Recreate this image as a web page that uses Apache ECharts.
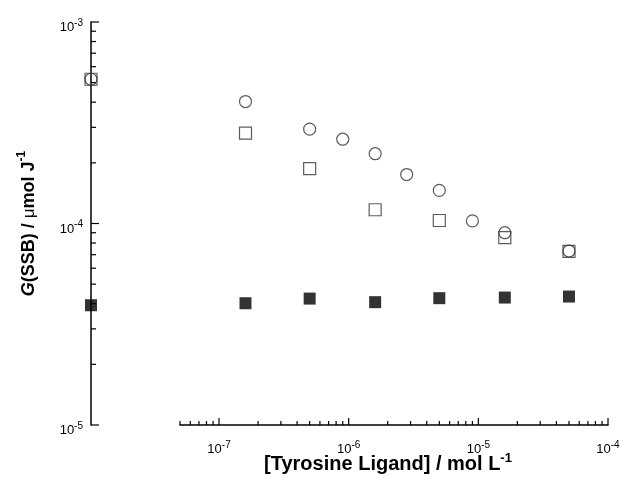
<!DOCTYPE html>
<html>
<head>
<meta charset="utf-8">
<script src="https://cdn.jsdelivr.net/npm/echarts@6/dist/echarts.min.js"></script>
<style>
  html, body { margin: 0; padding: 0; background: #fff; }
  #chart { width: 623px; height: 478px; }
</style>
</head>
<body>
<div id="chart"></div>
<script>
// ligand concentrations, mol/L
const conc = [1.6e-7, 5e-7, 9e-7, 1.6e-6, 2.8e-6, 5e-6, 9e-6, 1.6e-5, 5e-5];
const circleG = [4.03e-4, 2.94e-4, 2.62e-4, 2.22e-4, 1.75e-4, 1.46e-4, 1.03e-4, 9.0e-5, 7.3e-5];

const squareConc = [1.6e-7, 5e-7, 1.6e-6, 5e-6, 1.6e-5, 5e-5];
const openSquareG = [2.81e-4, 1.87e-4, 1.17e-4, 1.035e-4, 8.5e-5, 7.27e-5];
const filledSquareG = [4.02e-5, 4.24e-5, 4.07e-5, 4.26e-5, 4.29e-5, 4.34e-5];

// no ligand: drawn on the y axis
const zeroCircleG = [5.2e-4];
const zeroOpenSquareG = [5.2e-4];
const zeroFilledSquareG = [3.93e-5];

// axis ticks
const yMajorTicks = [1e-5, 1e-4, 1e-3];
const yMinorTicks = [2e-5, 3e-5, 4e-5, 5e-5, 6e-5, 7e-5, 8e-5, 9e-5,
  2e-4, 3e-4, 4e-4, 5e-4, 6e-4, 7e-4, 8e-4, 9e-4];
const xMajorTicks = [1e-7, 1e-6, 1e-5, 1e-4];
const xMinorTicks = [5e-8, 6e-8, 7e-8, 8e-8, 9e-8,
  2e-7, 3e-7, 4e-7, 5e-7, 6e-7, 7e-7, 8e-7, 9e-7,
  2e-6, 3e-6, 4e-6, 5e-6, 6e-6, 7e-6, 8e-6, 9e-6,
  2e-5, 3e-5, 4e-5, 5e-5, 6e-5, 7e-5, 8e-5, 9e-5];

const FONT = "'Liberation Sans', Arial, sans-serif";

const chart = echarts.init(document.getElementById("chart"), null, { renderer: "canvas" });

const powerLabel = (v) => {
  const lg = Math.log10(v);
  const e = Math.round(lg);
  if (Math.abs(lg - e) > 1e-6) return "";
  return "{b|10}{s|" + e + "}";
};

const labelRich = {
  b: { fontSize: 13, lineHeight: 16, verticalAlign: "bottom", fontFamily: FONT, color: "#000" },
  s: { fontSize: 10, lineHeight: 10, verticalAlign: "top", fontFamily: FONT, color: "#000" },
};

// tick marks drawn through the axis scales
const yTick = (len) => (params, api) => {
  const p = api.coord([0, api.value(1)]);
  return {
    type: "line",
    shape: { x1: p[0], y1: p[1], x2: p[0] + len, y2: p[1] },
    style: { stroke: "#000", lineWidth: 1.2 },
  };
};
const xTick = (len, withLabel) => (params, api) => {
  const v = api.value(0);
  const p = api.coord([v, 1e-5]);
  const line = {
    type: "line",
    shape: { x1: p[0], y1: p[1], x2: p[0], y2: p[1] - len },
    style: { stroke: "#000", lineWidth: 1.2 },
  };
  if (!withLabel) return line;
  return {
    type: "group",
    children: [
      line,
      {
        type: "text",
        x: p[0],
        y: p[1] + 15,
        style: { text: powerLabel(v), rich: labelRich, align: "center", verticalAlign: "top" },
      },
    ],
  };
};

const openStyle = { color: "rgba(0,0,0,0)", borderColor: "#333", borderWidth: 1.2 };
const filledStyle = { color: "#000", borderColor: "#000", borderWidth: 0 };

const option = {
  animation: false,
  backgroundColor: "#fff",
  grid: [
    { left: 91, right: 15, top: 22, bottom: 53, outerBoundsMode: "none", containLabel: false },
    { left: 180, right: 15, top: 22, bottom: 53, outerBoundsMode: "none", containLabel: false },
  ],
  xAxis: [
    { gridIndex: 0, type: "value", min: 0, max: 1, show: false },
    {
      gridIndex: 1,
      type: "log",
      logBase: 10,
      min: 5e-8,
      max: 1e-4,
      axisLine: { show: true, onZero: false, lineStyle: { color: "#000", width: 1.5 } },
      axisTick: { show: false },
      splitLine: { show: false },
      axisLabel: { show: false },
      name: "{t|[Tyrosine Ligand] / mol L}{u|-1}",
      nameLocation: "middle",
      nameGap: 27,
      nameTextStyle: {
        padding: [0, 12, 0, 0],
        rich: {
          t: { fontSize: 20, fontWeight: "bold", lineHeight: 22, verticalAlign: "bottom", fontFamily: FONT, color: "#000" },
          u: { fontSize: 13, fontWeight: "bold", lineHeight: 13, verticalAlign: "top", fontFamily: FONT, color: "#000" },
        },
      },
    },
  ],
  yAxis: [
    {
      gridIndex: 0,
      type: "log",
      logBase: 10,
      min: 1e-5,
      max: 1e-3,
      interval: 1,
      axisLine: { show: true, lineStyle: { color: "#000", width: 1.5 } },
      axisTick: { show: false },
      splitLine: { show: false },
      axisLabel: { margin: 8, padding: [8, 0, 0, 0], formatter: powerLabel, rich: labelRich },
      name: "{i|G}{n|(SSB) / }{m|\u03bc}{n|mol J}{s|-1}",
      nameLocation: "middle",
      nameRotate: 90,
      nameGap: 53,
      nameTextStyle: {
        rich: {
          i: { fontSize: 18, fontWeight: "bold", fontStyle: "italic", lineHeight: 22, verticalAlign: "bottom", fontFamily: FONT, color: "#000" },
          n: { fontSize: 18, fontWeight: "bold", lineHeight: 22, verticalAlign: "bottom", fontFamily: FONT, color: "#000" },
          m: { fontSize: 17, lineHeight: 22, verticalAlign: "bottom", fontFamily: FONT, color: "#000" },
          s: { fontSize: 12, fontWeight: "bold", lineHeight: 12, verticalAlign: "top", fontFamily: FONT, color: "#000" },
        },
      },
    },
    { gridIndex: 1, type: "log", logBase: 10, min: 1e-5, max: 1e-3, show: false },
  ],
  series: [
    { type: "custom", xAxisIndex: 0, yAxisIndex: 0, silent: true, clip: false,
      data: yMajorTicks.map((v) => [0, v]), renderItem: yTick(8) },
    { type: "custom", xAxisIndex: 0, yAxisIndex: 0, silent: true, clip: false,
      data: yMinorTicks.map((v) => [0, v]), renderItem: yTick(5) },
    { type: "custom", xAxisIndex: 1, yAxisIndex: 1, silent: true, clip: false,
      data: xMajorTicks.map((v) => [v, 1e-5]), renderItem: xTick(7, true) },
    { type: "custom", xAxisIndex: 1, yAxisIndex: 1, silent: true, clip: false,
      data: xMinorTicks.map((v) => [v, 1e-5]), renderItem: xTick(4, false) },

    { name: "circle", type: "scatter", xAxisIndex: 1, yAxisIndex: 1, clip: false,
      symbol: "circle", symbolSize: 12, itemStyle: openStyle,
      data: conc.map((x, i) => [x, circleG[i]]) },
    { name: "open square", type: "scatter", xAxisIndex: 1, yAxisIndex: 1, clip: false,
      symbol: "rect", symbolSize: 12, itemStyle: openStyle,
      data: squareConc.map((x, i) => [x, openSquareG[i]]) },
    { name: "filled square", type: "scatter", xAxisIndex: 1, yAxisIndex: 1, clip: false,
      symbol: "rect", symbolSize: 12, itemStyle: filledStyle,
      data: squareConc.map((x, i) => [x, filledSquareG[i]]) },

    { name: "circle 0", type: "scatter", xAxisIndex: 0, yAxisIndex: 0, clip: false,
      symbol: "circle", symbolSize: 12, itemStyle: openStyle,
      data: zeroCircleG.map((g) => [0, g]) },
    { name: "open square 0", type: "scatter", xAxisIndex: 0, yAxisIndex: 0, clip: false,
      symbol: "rect", symbolSize: 12, itemStyle: openStyle,
      data: zeroOpenSquareG.map((g) => [0, g]) },
    { name: "filled square 0", type: "scatter", xAxisIndex: 0, yAxisIndex: 0, clip: false,
      symbol: "rect", symbolSize: 12, itemStyle: filledStyle,
      data: zeroFilledSquareG.map((g) => [0, g]) },
  ],
};

chart.setOption(option);
</script>
</body>
</html>
